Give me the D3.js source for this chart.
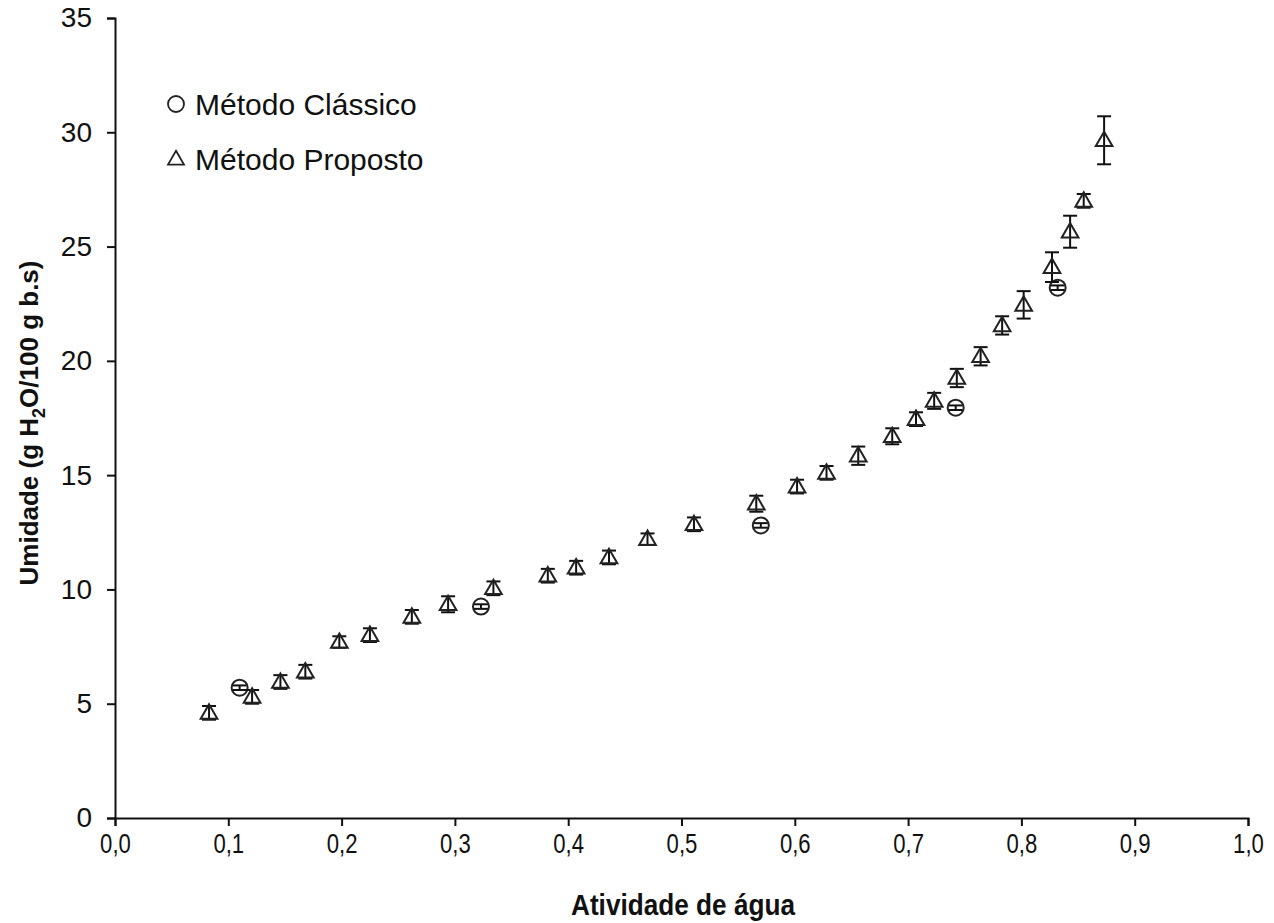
<!DOCTYPE html>
<html>
<head>
<meta charset="utf-8">
<script src="https://cdn.jsdelivr.net/npm/d3@7"></script>
<style>
  body { margin: 0; background: #fff; }
</style>
</head>
<body>
<div id="chart"></div>
<script>
// Método Proposto (triângulos) - atividade de água, umidade, erro
const awProposto = [0.083, 0.121, 0.146, 0.168, 0.198, 0.225, 0.262, 0.294, 0.334, 0.382,
    0.407, 0.436, 0.470, 0.511, 0.566, 0.602, 0.628, 0.656, 0.686, 0.707,
    0.723, 0.743, 0.764, 0.783, 0.802, 0.827, 0.843, 0.855, 0.873];
const umidProposto = [4.6, 5.3, 5.95, 6.4, 7.7, 8.0, 8.8, 9.35, 10.05, 10.6,
    10.95, 11.4, 12.2, 12.85, 13.75, 14.5, 15.1, 15.85, 16.7, 17.45,
    18.25, 19.25, 20.2, 21.55, 22.45, 24.1, 25.65, 27.0, 29.65];
const erroProposto = [0.3, 0.3, 0.3, 0.3, 0.25, 0.3, 0.3, 0.35, 0.3, 0.3,
    0.3, 0.3, 0.25, 0.3, 0.35, 0.3, 0.3, 0.4, 0.35, 0.3,
    0.35, 0.4, 0.4, 0.4, 0.6, 0.65, 0.7, 0.3, 1.05];

// Método Clássico (círculos)
const awClassico = [0.110, 0.323, 0.570, 0.742, 0.832];
const umidClassico = [5.7, 9.25, 12.8, 17.95, 23.2];
const erroClassico = [0.1, 0.1, 0.1, 0.1, 0.1];

const xTicks = [0, 0.1, 0.2, 0.3, 0.4, 0.5, 0.6, 0.7, 0.8, 0.9, 1.0];
const yTicks = [0, 5, 10, 15, 20, 25, 30, 35];

const width = 1274, height = 923;
const margin = { top: 18, right: 26, bottom: 105, left: 115 };
const sans = '"Liberation Sans", Arial, sans-serif';

const svg = d3.select('#chart')
    .append('svg')
    .attr('width', width)
    .attr('height', height);

const x = d3.scaleLinear().domain([0, 1]).range([margin.left, width - margin.right]);
const y = d3.scaleLinear().domain([0, 35]).range([height - margin.bottom, margin.top]);

const fmt = d => d3.format('.1f')(d).replace('.', ',');

// Eixos
const xAxis = svg.append('g')
    .attr('transform', `translate(0,${height - margin.bottom})`)
    .call(d3.axisBottom(x).tickValues(xTicks).tickFormat(fmt).tickSize(8).tickPadding(8));

const yAxis = svg.append('g')
    .attr('transform', `translate(${margin.left},0)`)
    .call(d3.axisLeft(y).tickValues(yTicks).tickSize(8).tickPadding(15));

[xAxis, yAxis].forEach(g => {
    g.attr('font-family', sans);
    g.select('.domain').attr('stroke', '#111').attr('stroke-width', 2);
    g.selectAll('.tick line').attr('stroke', '#111').attr('stroke-width', 2);
    g.selectAll('.tick text').attr('fill', '#111');
});
// rótulos do eixo x mais estreitos, como no original
xAxis.attr('font-size', 27);
xAxis.selectAll('.tick text').attr('transform', 'scale(0.82,1)');
yAxis.attr('font-size', 28);

// Títulos
svg.append('text')
    .attr('x', 683)
    .attr('y', 915)
    .attr('text-anchor', 'middle')
    .attr('font-family', sans)
    .attr('font-size', 30)
    .attr('font-weight', 'bold')
    .attr('fill', '#111')
    .attr('textLength', 224)
    .attr('lengthAdjust', 'spacingAndGlyphs')
    .text('Atividade de água');

const yTitle = svg.append('text')
    .attr('transform', 'translate(38,423) rotate(-90)')
    .attr('text-anchor', 'middle')
    .attr('font-family', sans)
    .attr('font-size', 26)
    .attr('font-weight', 'bold')
    .attr('fill', '#111');
yTitle.append('tspan').text('Umidade (g H');
yTitle.append('tspan').attr('font-size', 18).attr('dy', 7).text('2');
yTitle.append('tspan').attr('dy', -7).text('O/100 g b.s)');

const triangle = d3.symbol().type(d3.symbolTriangle).size(120);

function drawErrors(aw, umid, erro) {
    const g = svg.append('g').attr('stroke', '#111').attr('stroke-width', 2);
    aw.forEach((a, i) => {
        const cx = x(a), y0 = y(umid[i] - erro[i]), y1 = y(umid[i] + erro[i]);
        g.append('line').attr('x1', cx).attr('x2', cx).attr('y1', y0).attr('y2', y1);
        g.append('line').attr('x1', cx - 7).attr('x2', cx + 7).attr('y1', y0).attr('y2', y0);
        g.append('line').attr('x1', cx - 7).attr('x2', cx + 7).attr('y1', y1).attr('y2', y1);
    });
}

// Método Clássico
drawErrors(awClassico, umidClassico, erroClassico);
svg.append('g')
    .selectAll('circle')
    .data(awClassico)
    .join('circle')
    .attr('cx', d => x(d))
    .attr('cy', (d, i) => y(umidClassico[i]))
    .attr('r', 8)
    .attr('fill', 'none')
    .attr('stroke', '#222')
    .attr('stroke-width', 2);

// Método Proposto
drawErrors(awProposto, umidProposto, erroProposto);
svg.append('g')
    .selectAll('path')
    .data(awProposto)
    .join('path')
    .attr('d', triangle)
    .attr('transform', (d, i) => `translate(${x(d)},${y(umidProposto[i]) + 1})`)
    .attr('fill', 'none')
    .attr('stroke', '#222')
    .attr('stroke-width', 2);

// Legenda
const legend = svg.append('g').attr('transform', 'translate(176,0)');
legend.append('circle').attr('cx', 0).attr('cy', 104).attr('r', 8)
    .attr('fill', 'none').attr('stroke', '#222').attr('stroke-width', 1.8);
legend.append('text').attr('x', 19).attr('y', 115).attr('font-family', sans)
    .attr('font-size', 30).attr('fill', '#111').text('Método Clássico');
legend.append('path').attr('d', d3.symbol().type(d3.symbolTriangle).size(110))
    .attr('transform', 'translate(0,160)')
    .attr('fill', 'none').attr('stroke', '#222').attr('stroke-width', 1.8);
legend.append('text').attr('x', 19).attr('y', 170).attr('font-family', sans)
    .attr('font-size', 30).attr('fill', '#111').text('Método Proposto');
</script>
</body>
</html>
